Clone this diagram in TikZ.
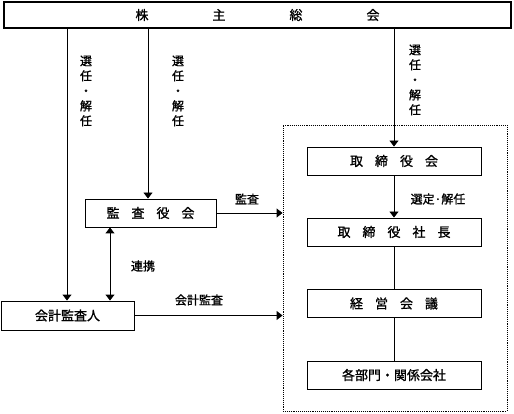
\documentclass[tikz,border=0pt]{standalone}
\usepackage{fontspec}
\setmainfont{Noto Sans CJK JP}[FakeBold=1.2]
\usetikzlibrary{arrows.meta}
\begin{document}
\begin{tikzpicture}[x=1pt,y=-1pt,
  box/.style={draw, line width=0.9pt, minimum height=28pt, inner sep=0pt, font=\fontsize{13}{15}\selectfont},
  lbl/.style={inner sep=0pt, font=\fontsize{12}{15}\selectfont},
  arr/.style={line width=0.9pt, -{Triangle[width=9pt,length=6pt]}},
  dbl/.style={line width=0.9pt, {Triangle[width=9pt,length=6pt]}-{Triangle[width=9pt,length=6pt]}},
  ln/.style={line width=0.9pt}]
\useasboundingbox (0,0) rectangle (514,414);
\node[box, line width=1.2pt, minimum width=507pt, minimum height=26pt] (top) at (257.5,15)
  {株\hspace{64pt}主\hspace{64pt}総\hspace{64pt}会};
\node[box, minimum width=131pt] (kansa) at (150.5,213)
  {監\hspace{12pt}査\hspace{12pt}役\hspace{12pt}会};
\node[box, minimum width=133pt, minimum height=29pt] (kaikei) at (67.5,315.5) {会計監査人};
\node[draw, densely dotted, line width=0.9pt, minimum width=224pt, minimum height=286pt, inner sep=0pt] (exec) at (395,268) {};
\node[box, minimum width=174pt] (tori) at (394,161)
  {取\hspace{12pt}締\hspace{12pt}役\hspace{12pt}会};
\node[box, minimum width=174pt] (shacho) at (394,232)
  {取\hspace{12pt}締\hspace{12pt}役\hspace{12pt}社\hspace{12pt}長};
\node[box, minimum width=174pt] (keiei) at (394,303.5)
  {経\hspace{12pt}営\hspace{12pt}会\hspace{12pt}議};
\node[box, minimum width=174pt] (bumon) at (394,375) {各部門・関係会社};
\coordinate (a1) at (67,0);
\coordinate (a2) at (148,0);
\coordinate (a3) at (110,0);
\draw[arr] (top.south -| a1) -- (kaikei.north -| a1);
\draw[arr] (top.south -| a2) -- (kansa.north -| a2);
\draw[arr] (top.south -| tori.north) -- (tori.north);
\draw[arr] (tori) -- (shacho);
\draw[ln] (shacho) -- (keiei);
\draw[ln] (keiei) -- (bumon);
\draw[arr] (kansa.east) -- (kansa.east -| exec.west);
\draw[arr] (kaikei.east) -- (kaikei.east -| exec.west);
\draw[dbl] (kansa.south -| a3) -- (kaikei.north -| a3);
\node[lbl, align=center] (l1) at (86,91) {選\\任\\・\\解\\任};
\node[lbl, align=center] (l2) at (178,91) {選\\任\\・\\解\\任};
\node[lbl, align=center] (l3) at (415,80) {選\\任\\・\\解\\任};
\node[lbl] (l4) at (247,199) {監査};
\node[lbl] (l5) at (143,266) {連携};
\node[lbl] (l6) at (199,300) {会計監査};
\node[lbl] (l7) at (438,199) {選定·解任};
\end{tikzpicture}
\end{document}
